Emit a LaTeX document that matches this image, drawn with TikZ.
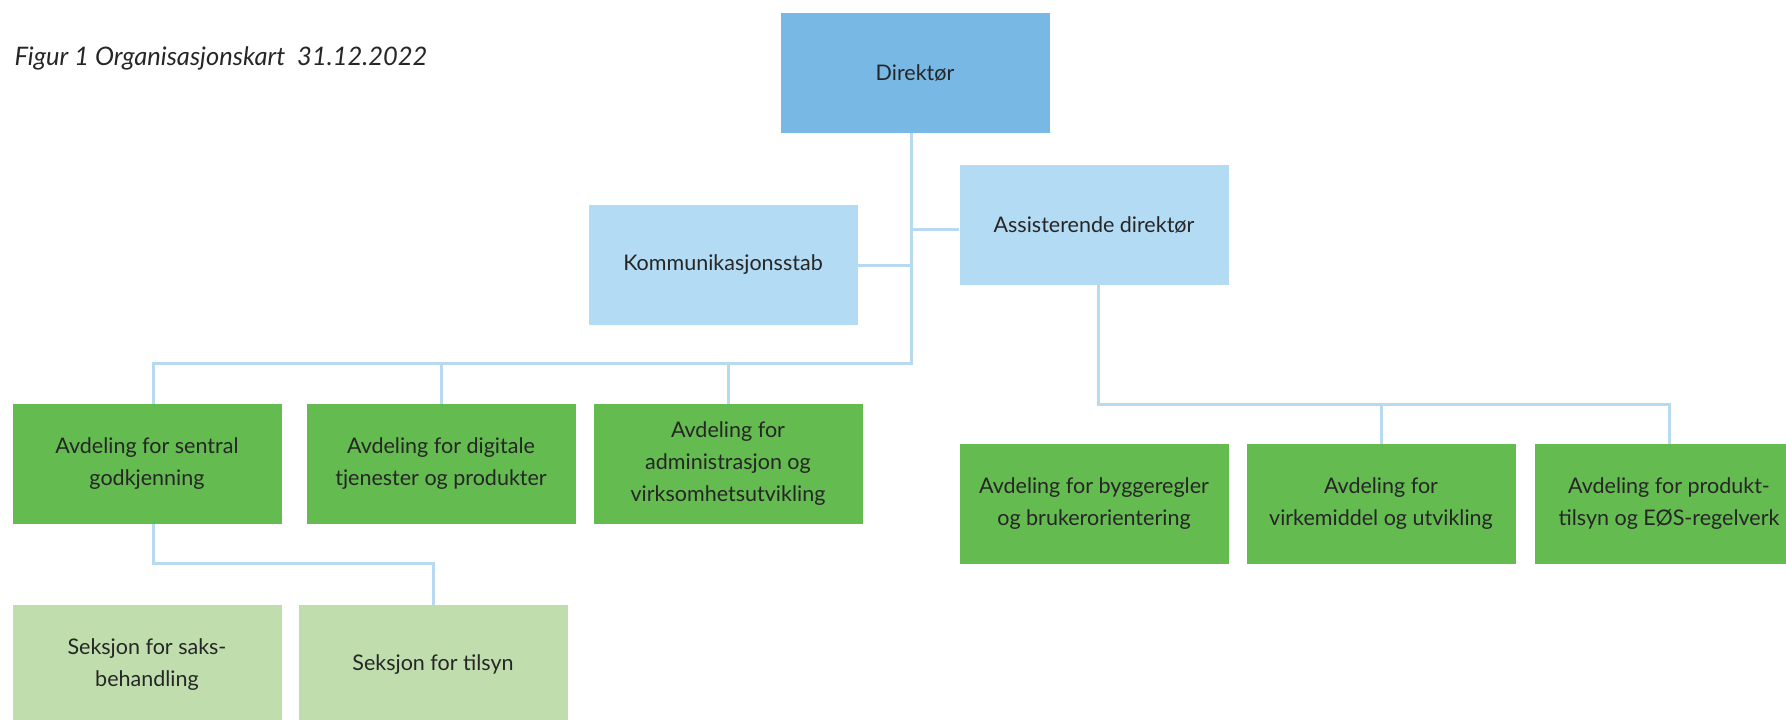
\documentclass[tikz,border=0pt]{standalone}
\usepackage{fontspec}
\setmainfont{Lato}
\usetikzlibrary{positioning}

\definecolor{dirblue}{HTML}{78B8E5}
\definecolor{staffblue}{HTML}{B3DBF3}
\definecolor{linkblue}{HTML}{B8DAF0}
\definecolor{deptgreen}{HTML}{64BB50}
\definecolor{seclgreen}{HTML}{C0DEAD}
\definecolor{txtgray}{HTML}{262626}

\tikzset{
  unit/.style={minimum width=269pt, minimum height=120pt, inner sep=0pt,
    align=center, text=txtgray, font=\fontsize{21.5}{32}\selectfont},
  topbox/.style={unit, fill=dirblue},
  staffbox/.style={unit, fill=staffblue},
  deptbox/.style={unit, fill=deptgreen},
  secbox/.style={unit, fill=seclgreen},
  link/.style={draw=linkblue, line width=3pt}
}

\begin{document}
\begin{tikzpicture}[x=1pt,y=-1pt]
\useasboundingbox (0,0) rectangle (1786,720);
\clip (0,0) rectangle (1786,720);

%% Title
\node[anchor=west, text=txtgray, font=\itshape\fontsize{25.5}{30}\selectfont] (title) at (11,58)
  {Figur 1 Organisasjonskart \ 31.12.2022};

%% Top level
\node[topbox] (dir) at (915,73) {Direktør};
\node[staffbox] (ass) at (1094,225) {Assisterende direktør};
\node[staffbox] (komm) at (723,265) {Kommunikasjonsstab};

%% Departments under the director
\node[deptbox] (sentral) at (147,464) {Avdeling for sentral\\godkjenning};
\node[deptbox] (digital) at (441,464) {Avdeling for digitale\\tjenester og produkter};
\node[deptbox] (admin) at (728,464) {Avdeling for\\administrasjon og\\virksomhetsutvikling};

%% Departments under the assistant director
\node[deptbox] (bygg) at (1094,504) {Avdeling for byggeregler\\og brukerorientering};
\node[deptbox] (virk) at (1381,504) {Avdeling for\\virkemiddel og utvikling};
\node[deptbox] (produkt) at (1669,504) {Avdeling for produkt-\\tilsyn og EØS-regelverk};

%% Sections
\node[secbox] (saksbeh) at (147,665) {Seksjon for saks-\\behandling};
\node[secbox] (tilsyn) at (433,665) {Seksjon for tilsyn};

%% Connectors
\coordinate (trunk) at (911,363);
\coordinate (rbar) at (1098,404);
\coordinate (sbar) at (153,563);

\draw[link] (dir.south -| trunk) -- (trunk) -| ([xshift=6pt]sentral.north);
\draw[link] (komm.east) -- (komm.east -| trunk);
\draw[link] ([yshift=-4pt]ass.west) -- ([yshift=-4pt]ass.west -| trunk);
\foreach \d in {digital,admin}
  \draw[link] (\d.north) -- (\d.north |- trunk);

\draw[link] (ass.south -| rbar) -- (rbar) -| (produkt.north);
\draw[link] (virk.north) -- (virk.north |- rbar);

\draw[link] (sentral.south -| sbar) -- (sbar) -| (tilsyn.north);

\end{tikzpicture}
\end{document}
